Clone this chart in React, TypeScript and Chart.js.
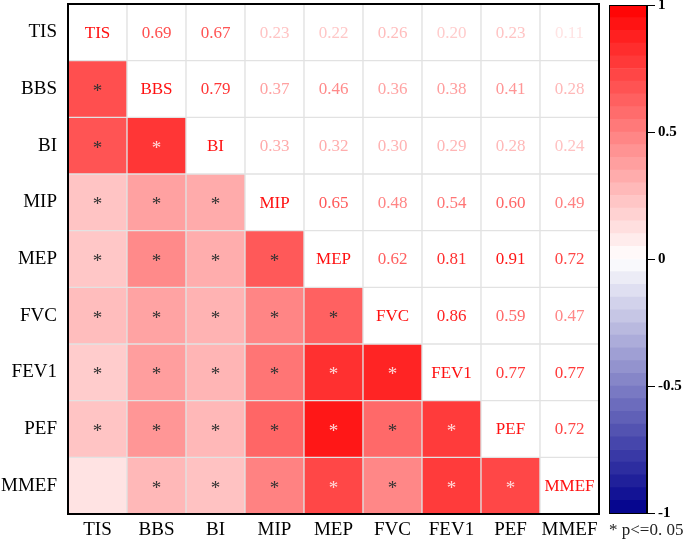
import { useEffect, useRef } from 'react';
import { Chart, registerables } from 'chart.js';
Chart.register(...registerables);

const labels = ['TIS', 'BBS', 'BI', 'MIP', 'MEP', 'FVC', 'FEV1', 'PEF', 'MMEF'];
// upper-triangle correlations: each row lists r with the variables that follow it
const rowTIS = [0.69, 0.67, 0.23, 0.22, 0.26, 0.20, 0.23, 0.11];
const rowBBS = [0.79, 0.37, 0.46, 0.36, 0.38, 0.41, 0.28];
const rowBI = [0.33, 0.32, 0.30, 0.29, 0.28, 0.24];
const rowMIP = [0.65, 0.48, 0.54, 0.60, 0.49];
const rowMEP = [0.62, 0.81, 0.91, 0.72];
const rowFVC = [0.86, 0.59, 0.47];
const rowFEV1 = [0.77, 0.77];
const rowPEF = [0.72];
const upper = [rowTIS, rowBBS, rowBI, rowMIP, rowMEP, rowFVC, rowFEV1, rowPEF, []];
const notSignificant = [['TIS', 'MMEF']];
const colorbarTicks = [-1, -0.5, 0, 0.5, 1];
const colorbarSteps = 40;
const legendNote = '* p<=0. 05';

const SERIF = '"Liberation Serif", "Times New Roman", serif';

function corr(i: number, j: number): number {
  if (i === j) return 1;
  const a = Math.min(i, j);
  const b = Math.max(i, j);
  return upper[a][b - a - 1];
}

function isSig(i: number, j: number): boolean {
  return !notSignificant.some(
    ([p, q]) =>
      (labels[i] === p && labels[j] === q) || (labels[i] === q && labels[j] === p)
  );
}

function colorFor(v: number): string {
  if (v >= 0) {
    const g = Math.round(255 * (1 - Math.min(v, 1)));
    return `rgb(255,${g},${g})`;
  }
  const t = Math.min(-v, 1);
  const r = Math.round(255 * (1 - t));
  const b = Math.round(255 - 115 * t);
  return `rgb(${r},${r},${b})`;
}

export default function App() {
  const mainRef = useRef<HTMLCanvasElement>(null);
  const barRef = useRef<HTMLCanvasElement>(null);

  useEffect(() => {
    const n = labels.length;
    const datasets = labels.map((_, r) => ({
      label: labels[r],
      data: labels.map(() => [r, r + 1]),
      backgroundColor: labels.map((_, c) => (c < r ? colorFor(corr(r, c)) : '#ffffff')),
      borderColor: '#e2e2e2',
      borderWidth: 1,
      borderSkipped: false,
      grouped: false,
      barPercentage: 1,
      categoryPercentage: 1,
    }));

    const textPlugin = {
      id: 'cellText',
      afterDatasetsDraw(chart: any) {
        const { ctx, scales } = chart;
        const xs = scales.x;
        const ys = scales.y;
        ctx.save();
        ctx.textAlign = 'center';
        ctx.textBaseline = 'middle';
        for (let r = 0; r < n; r++) {
          for (let c = 0; c < n; c++) {
            const x = xs.getPixelForValue(c);
            const y = ys.getPixelForValue(r + 0.5);
            if (r === c) {
              ctx.fillStyle = '#ff1010';
              ctx.font = `17px ${SERIF}`;
              ctx.fillText(labels[r], x, y + 1);
            } else if (c > r) {
              const v = corr(r, c);
              ctx.fillStyle = colorFor(v);
              ctx.font = `17px ${SERIF}`;
              ctx.fillText(v.toFixed(2), x, y + 1);
            } else if (isSig(r, c)) {
              const v = corr(r, c);
              ctx.fillStyle = v >= 0.7 ? 'rgba(255,225,225,0.95)' : '#333333';
              ctx.font = `19px ${SERIF}`;
              ctx.fillText('*', x, y + 3);
            }
          }
        }
        ctx.restore();
      },
      afterDraw(chart: any) {
        const { ctx, chartArea } = chart;
        ctx.save();
        ctx.strokeStyle = '#000';
        ctx.lineWidth = 2;
        ctx.strokeRect(chartArea.left, chartArea.top, chartArea.right - chartArea.left, chartArea.bottom - chartArea.top);
        ctx.restore();
      },
    };

    const main = new Chart(mainRef.current!, {
      type: 'bar',
      data: { labels, datasets: datasets as any },
      options: {
        animation: false,
        responsive: false,
        layout: { padding: { top: 4, right: 6, left: 0, bottom: 0 } },
        plugins: { legend: { display: false }, tooltip: { enabled: false } },
        scales: {
          x: {
            type: 'category',
            offset: true,
            grid: { display: false, drawTicks: false },
            border: { display: false },
            ticks: { color: '#000', font: { family: SERIF, size: 19 }, padding: 5, maxRotation: 0, autoSkip: false },
            afterFit(scale: any) {
              scale.height = 26;
              scale.paddingLeft = 0;
              scale.paddingRight = 0;
            },
          },
          y: {
            type: 'linear',
            min: 0,
            max: 9,
            reverse: true,
            grid: { display: false, drawTicks: false },
            border: { display: false },
            afterBuildTicks(scale: any) {
              scale.ticks = labels.map((_, i) => ({ value: i + 0.5 }));
            },
            ticks: {
              color: '#000',
              font: { family: SERIF, size: 19 },
              padding: 11,
              autoSkip: false,
              callback: (v: any) => labels[Math.floor(Number(v))],
            },
            afterFit(scale: any) {
              scale.width = 68;
              scale.paddingTop = 0;
              scale.paddingBottom = 0;
            },
          },
        },
      },
      plugins: [textPlugin],
    });

    const step = 2 / colorbarSteps;
    const barSets = Array.from({ length: colorbarSteps }, (_, k) => {
      const lo = -1 + k * step;
      const hi = lo + step;
      return {
        data: [[lo, hi]],
        backgroundColor: colorFor(lo + step / 2),
        borderWidth: 0,
        grouped: false,
        barPercentage: 1,
        categoryPercentage: 1,
      };
    });

    const barPlugin = {
      id: 'cbExtra',
      afterDraw(chart: any) {
        const { ctx, chartArea } = chart;
        ctx.save();
        ctx.strokeStyle = '#000';
        ctx.lineWidth = 1;
        ctx.strokeRect(chartArea.left + 0.5, chartArea.top + 0.5, chartArea.right - chartArea.left - 1, chartArea.bottom - chartArea.top);
        ctx.fillStyle = '#222';
        ctx.font = `17px ${SERIF}`;
        ctx.textAlign = 'left';
        ctx.textBaseline = 'middle';
        ctx.fillText(legendNote, 9, 531);
        ctx.restore();
      },
    };

    const bar = new Chart(barRef.current!, {
      type: 'bar',
      data: { labels: ['r'], datasets: barSets as any },
      options: {
        animation: false,
        responsive: false,
        layout: { padding: { top: 5, right: 0, left: 9, bottom: 27 } },
        plugins: { legend: { display: false }, tooltip: { enabled: false } },
        scales: {
          x: { display: false },
          y: {
            position: 'right',
            min: -1,
            max: 1,
            afterBuildTicks(scale: any) {
              scale.ticks = colorbarTicks.map((v) => ({ value: v }));
            },
            grid: { drawOnChartArea: false, tickLength: 8, color: '#000' },
            border: { display: true, color: '#000' },
            ticks: {
              color: '#000',
              font: { family: SERIF, size: 15, weight: 'bold' },
              padding: 3,
              callback: (v: any) => String(v),
            },
            afterFit(scale: any) {
              scale.width = 38;
              scale.paddingTop = 0;
              scale.paddingBottom = 0;
            },
          },
        },
      },
      plugins: [barPlugin],
    });

    return () => {
      main.destroy();
      bar.destroy();
    };
  }, []);

  return (
    <div style={{ position: 'fixed', left: 0, top: 0, width: 685, height: 540, background: '#fff' }}>
      <canvas ref={mainRef} width={605} height={540} style={{ position: 'absolute', left: 0, top: 0 }} />
      <canvas ref={barRef} width={85} height={540} style={{ position: 'absolute', left: 600, top: 0 }} />
    </div>
  );
}
